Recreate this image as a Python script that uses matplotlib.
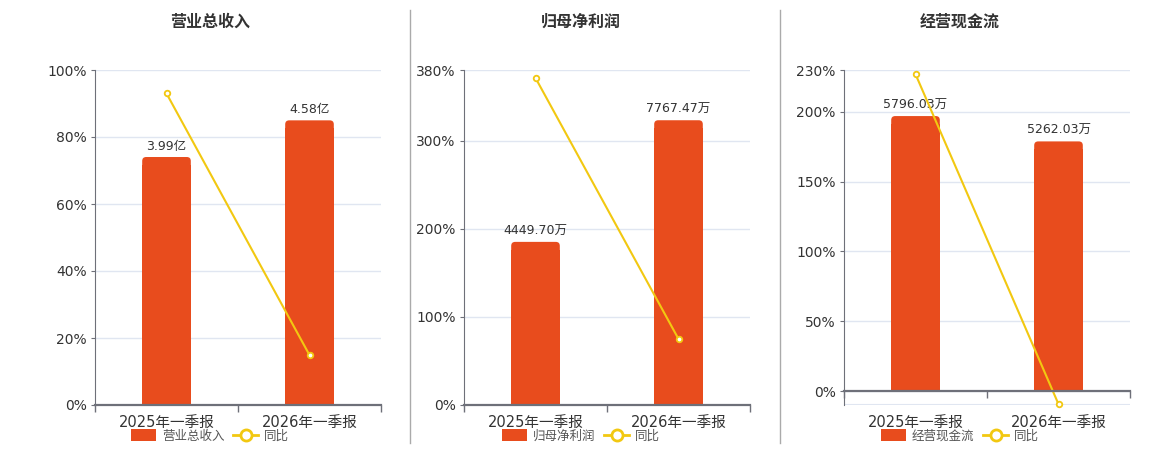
import matplotlib
matplotlib.use("Agg")
import matplotlib.pyplot as plt
from matplotlib.patches import FancyBboxPatch, Patch
from matplotlib.lines import Line2D

plt.rcParams['font.family'] = ['DejaVu Sans', 'Noto Sans CJK SC']

# ---------------- DATA ----------------
categories = ['2025年一季报', '2026年一季报']

revenue = [3.99, 4.58]            # 亿
revenue_yoy = [93.0, 14.9]        # %
profit = [4449.70, 7767.47]       # 万
profit_yoy = [371.0, 74.9]
cashflow = [5796.03, 5262.03]     # 万
cashflow_yoy = [227.0, -9.4]

# ---------------- STYLE ----------------
BAR_COLOR = "#E84C1D"
LINE_COLOR = "#F2C811"
TEXT_COLOR = "#333333"
LEGEND_TEXT = "#555555"
AXIS_COLOR = "#6E7079"
GRID_COLOR = "#E0E6F1"
SEP_COLOR = "#AAAAAA"

W, H = 1160, 450
AX_W, AX_H = 286, 335
AX_BOTTOM = 45

fig = plt.figure(figsize=(W / 100, H / 100), dpi=100)

panels = [
    dict(title='营业总收入', values=revenue, yoy=revenue_yoy, unit='亿',
         left=95, center=210, ylim=(0, 100), yticks=[0, 20, 40, 60, 80, 100],
         bar_lim=(0, 5.39)),
    dict(title='归母净利润', values=profit, yoy=profit_yoy, unit='万',
         left=464, center=581, ylim=(0, 380), yticks=[0, 100, 200, 300, 380],
         bar_lim=(0, 9138)),
    dict(title='经营现金流', values=cashflow, yoy=cashflow_yoy, unit='万',
         left=844, center=960, ylim=(-10, 230), yticks=[0, 50, 100, 150, 200, 230],
         bar_lim=(-294, 6767)),
]


def draw_panel(p):
    rect = [p['left'] / W, AX_BOTTOM / H, AX_W / W, AX_H / H]
    xs = list(range(len(categories)))

    # percent axis: grid, y ticks, category labels
    ax = fig.add_axes(rect)
    ax.set_xlim(-0.5, 1.5)
    ax.set_ylim(*p['ylim'])
    ax.set_yticks(p['yticks'])
    ax.set_yticklabels([f'{t}%' for t in p['yticks']])
    ax.grid(axis='y', color=GRID_COLOR, lw=1)
    if p['ylim'][0] < 0:
        ax.axhline(p['ylim'][0], color=GRID_COLOR, lw=1.5)
    ax.set_axisbelow(True)
    for s in ['top', 'right', 'bottom']:
        ax.spines[s].set_visible(False)
    ax.spines['left'].set_color(AXIS_COLOR)
    ax.tick_params(axis='y', length=3, color=AXIS_COLOR, labelcolor=TEXT_COLOR,
                   labelsize=10, pad=3)
    ax.set_xticks(xs)
    ax.set_xticklabels(categories)
    ax.tick_params(axis='x', length=0, pad=7, labelsize=10.5, labelcolor=TEXT_COLOR)

    # bar axis (hidden scale)
    axb = fig.add_axes(rect)
    axb.set_axis_off()
    axb.set_xlim(-0.5, 1.5)
    axb.set_ylim(*p['bar_lim'])
    bars = axb.bar(xs, p['values'], width=0.34, color=BAR_COLOR, lw=0)
    x_per_px = 2.0 / AX_W
    y_per_px = (p['bar_lim'][1] - p['bar_lim'][0]) / AX_H
    r = 4 * x_per_px
    aspect = y_per_px / x_per_px
    for b, v in zip(bars, p['values']):
        x0, w, h = b.get_x(), b.get_width(), b.get_height()
        axb.add_patch(FancyBboxPatch((x0, 0), w, h,
                                     boxstyle=f"round,pad=0,rounding_size={r}",
                                     mutation_aspect=aspect, fc=BAR_COLOR, ec='none'))
        b.set_height(h - 2 * r * aspect)
        axb.annotate(f'{v:.2f}{p["unit"]}', (b.get_x() + w / 2, h), xytext=(0, 3),
                     textcoords='offset points', ha='center', va='bottom',
                     fontsize=9, color=TEXT_COLOR)

    # line axis on top, carries the zero axis line
    axl = fig.add_axes(rect)
    axl.patch.set_visible(False)
    axl.set_xlim(-0.5, 1.5)
    axl.set_ylim(*p['ylim'])
    for s in ['top', 'right', 'left']:
        axl.spines[s].set_visible(False)
    axl.spines['bottom'].set_position(('data', 0))
    axl.spines['bottom'].set_color(AXIS_COLOR)
    axl.spines['bottom'].set_linewidth(1.6)
    axl.set_yticks([])
    axl.set_xticks([-0.5, 0.5, 1.5])
    axl.tick_params(axis='x', length=5, width=1, color=AXIS_COLOR, labelbottom=False)
    axl.plot(xs, p['yoy'], color=LINE_COLOR, lw=1.5, marker='o', ms=4,
             mfc='white', mec=LINE_COLOR, mew=1.3, clip_on=False)

    fig.text(p['center'] / W, 1 - 22 / H, p['title'], ha='center', va='center',
             fontsize=11.5, fontweight='bold', color=TEXT_COLOR)

    handles = [Patch(facecolor=BAR_COLOR, edgecolor='none'),
               Line2D([], [], color=LINE_COLOR, lw=2, marker='o', ms=8,
                      mfc='white', mec=LINE_COLOR, mew=2)]
    fig.legend(handles, [p['title'], '同比'], loc='center',
               bbox_to_anchor=(p['center'] / W, 1 - 436 / H), ncol=2,
               frameon=False, fontsize=9, handlelength=2.0, handleheight=1.1,
               handletextpad=0.5, columnspacing=0.7, labelcolor=LEGEND_TEXT,
               borderaxespad=0, borderpad=0)


for p in panels:
    draw_panel(p)

# panel separators
for x in [410, 780]:
    fig.add_artist(Line2D([x / W, x / W], [1 - 10 / H, 1 - 443 / H],
                          color=SEP_COLOR, lw=1))

fig.savefig('out.png', dpi=100)
